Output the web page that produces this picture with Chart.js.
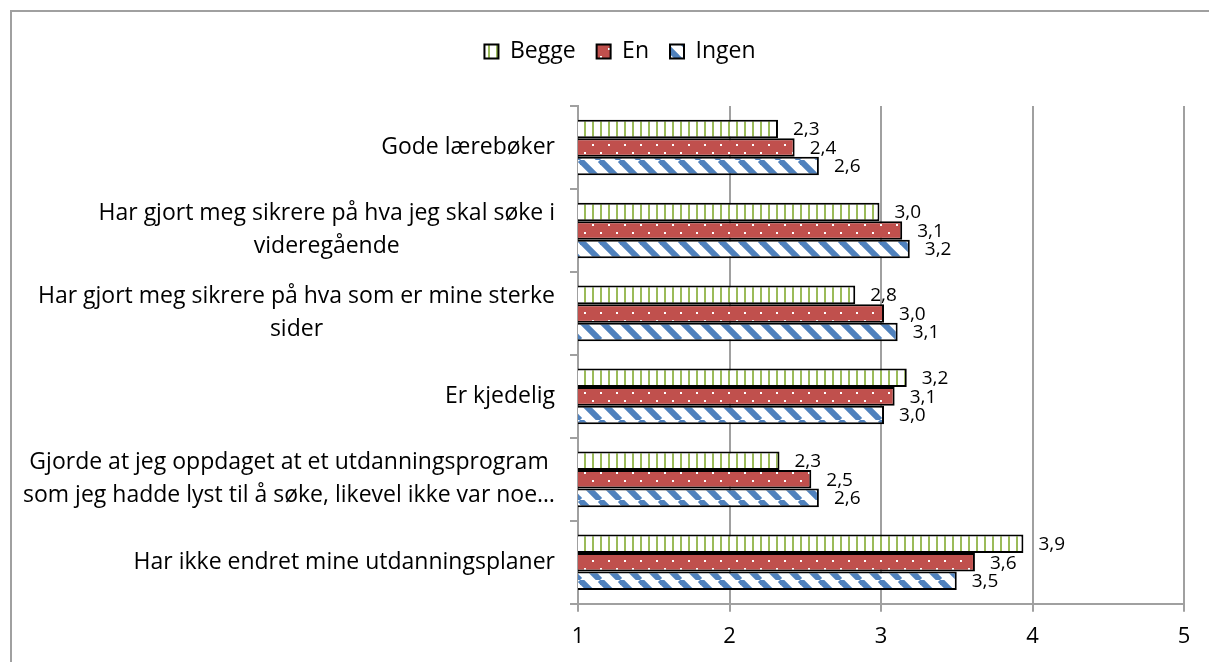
<!DOCTYPE html>
<html>
<head>
<meta charset="utf-8">
<script src="https://cdn.jsdelivr.net/npm/chart.js@4.4.0/dist/chart.umd.min.js"></script>
<style>
  html, body { margin: 0; padding: 0; background: #fff; }
</style>
</head>
<body>
<canvas id="grafikk" width="1209" height="662"></canvas>
<script>
  // Utsagn (kategorier) - flere linjer der teksten brytes
  const kategorier = [
    'Gode lærebøker',
    ['Har gjort meg sikrere på hva jeg skal søke i', 'videregående'],
    ['Har gjort meg sikrere på hva som er mine sterke', 'sider'],
    'Er kjedelig',
    ['Gjorde at jeg oppdaget at et utdanningsprogram', 'som jeg hadde lyst til å søke, likevel ikke var noe…'],
    'Har ikke endret mine utdanningsplaner'
  ];

  // Gjennomsnitt per gruppe
  const begge = [2.32, 2.99, 2.83, 3.17, 2.33, 3.94];
  const en = [2.43, 3.14, 3.02, 3.09, 2.54, 3.62];
  const ingen = [2.59, 3.19, 3.11, 3.02, 2.59, 3.50];

  // Verdier på x-aksen
  const xTicks = [1, 2, 3, 4, 5];

  const skrift = "'Open Sans', sans-serif";
  Chart.defaults.font.family = skrift;
  Chart.defaults.color = '#000';

  // Mønstre som i Excel
  function lagMonster(type) {
    const c = document.createElement('canvas');
    const g = c.getContext('2d');
    if (type === 'vertikal') {
      c.width = 8; c.height = 8;
      g.fillStyle = '#fff'; g.fillRect(0, 0, 8, 8);
      g.fillStyle = '#9BBB59'; g.fillRect(0, 0, 2, 8);
    } else if (type === 'prikker') {
      c.width = 16; c.height = 16;
      g.fillStyle = '#C0504D'; g.fillRect(0, 0, 16, 16);
      g.fillStyle = '#fff'; g.fillRect(0, 0, 2, 2); g.fillRect(8, 8, 2, 2);
    } else {
      c.width = 20; c.height = 20;
      g.fillStyle = '#fff'; g.fillRect(0, 0, 20, 20);
      g.strokeStyle = '#4F81BD'; g.lineWidth = 6;
      for (const dx of [-20, 0, 20]) {
        g.beginPath(); g.moveTo(dx, 0); g.lineTo(dx + 20, 20); g.stroke();
      }
    }
    return g.createPattern(c, 'repeat');
  }

  // Ramme rundt hele grafen
  const ramme = {
    id: 'ramme',
    beforeDraw(chart) {
      const ctx = chart.ctx;
      ctx.save();
      ctx.fillStyle = '#fff';
      ctx.fillRect(0, 0, chart.width, chart.height);
      ctx.strokeStyle = '#a0a0a0';
      ctx.lineWidth = 2;
      ctx.strokeRect(11, 11, 1300, 1000);
      ctx.restore();
    }
  };

  // Mer luft under forklaringen
  const forklaringLuft = {
    id: 'forklaringLuft',
    afterInit(chart) {
      const lg = chart.legend;
      const fit = lg.fit;
      lg.fit = function () { fit.call(this); this.height += 33; };
    }
  };

  // Kategoritekst, høyrejustert blokk med sentrerte linjer
  const kategoriTekst = {
    id: 'kategoriTekst',
    afterDraw(chart) {
      const ctx = chart.ctx;
      const y = chart.scales.y;
      ctx.save();
      ctx.font = '23px ' + skrift;
      ctx.fillStyle = '#000';
      ctx.textBaseline = 'middle';
      ctx.textAlign = 'center';
      kategorier.forEach((lab, i) => {
        const linjer = Array.isArray(lab) ? lab : [lab];
        const bredde = Math.max(...linjer.map(l => ctx.measureText(l).width));
        const xm = y.right - 23 - bredde / 2;
        const ym = y.getPixelForValue(i);
        linjer.forEach((l, j) => {
          ctx.fillText(l, xm, ym + (j - (linjer.length - 1) / 2) * 33);
        });
      });
      ctx.restore();
    }
  };

  // Verdier ved enden av søylene
  const verdiTekst = {
    id: 'verdiTekst',
    afterDatasetsDraw(chart) {
      const ctx = chart.ctx;
      ctx.save();
      ctx.font = '19px ' + skrift;
      ctx.fillStyle = '#000';
      ctx.textBaseline = 'middle';
      ctx.textAlign = 'left';
      chart.data.datasets.forEach((ds, i) => {
        chart.getDatasetMeta(i).data.forEach((bar, j) => {
          ctx.fillText(ds.data[j].toFixed(1).replace('.', ','), bar.x + 15, bar.y + 1);
        });
      });
      ctx.restore();
    }
  };

  const felles = {
    borderColor: '#000',
    borderWidth: 2,
    borderSkipped: false,
    barPercentage: 1,
    categoryPercentage: 0.67
  };

  new Chart(document.getElementById('grafikk'), {
    type: 'bar',
    data: {
      labels: kategorier,
      datasets: [
        { label: 'Begge', data: begge, backgroundColor: lagMonster('vertikal'), ...felles },
        { label: 'En', data: en, backgroundColor: lagMonster('prikker'), ...felles },
        { label: 'Ingen', data: ingen, backgroundColor: lagMonster('diagonal'), ...felles }
      ]
    },
    options: {
      indexAxis: 'y',
      responsive: false,
      animation: false,
      events: [],
      layout: { padding: { top: 19, right: 25, bottom: 0, left: 56 } },
      plugins: {
        legend: {
          position: 'top',
          labels: {
            boxWidth: 14,
            boxHeight: 14,
            padding: 21,
            font: { size: 23 },
            color: '#000'
          }
        },
        tooltip: { enabled: false }
      },
      scales: {
        x: {
          min: 1,
          max: 5,
          afterBuildTicks(s) { s.ticks = xTicks.map(v => ({ value: v })); },
          ticks: { font: { size: 22, lineHeight: 1.1 }, color: '#000', padding: 13 },
          grid: { color: '#a0a0a0', tickLength: 8, lineWidth: 2 },
          border: { color: '#a0a0a0', width: 2 }
        },
        y: {
          ticks: { display: false },
          grid: { drawOnChartArea: false, drawTicks: true, tickLength: 8, color: '#a0a0a0', lineWidth: 2, offset: true },
          border: { color: '#a0a0a0', width: 2 },
          afterFit(s) { s.width = 522; }
        }
      }
    },
    plugins: [ramme, forklaringLuft, kategoriTekst, verdiTekst]
  });
</script>
</body>
</html>
